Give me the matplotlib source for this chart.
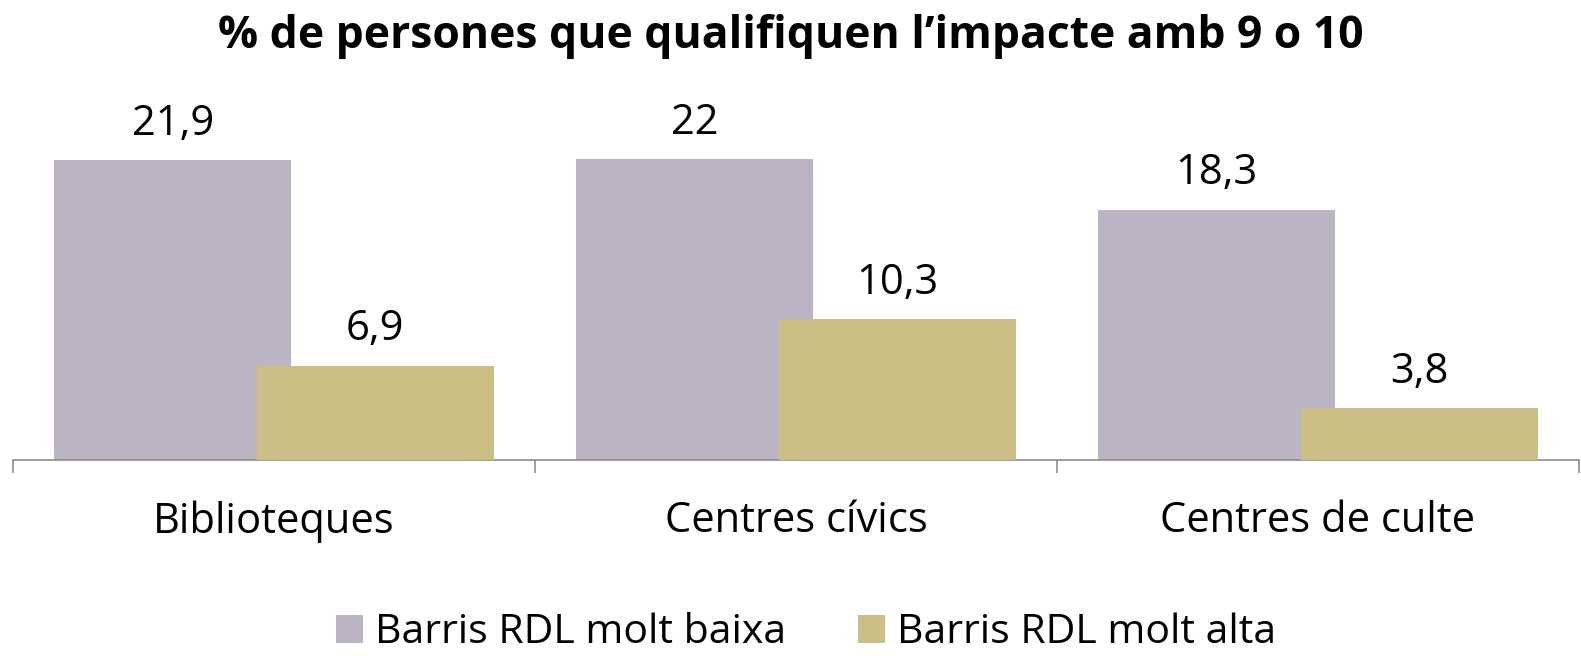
import matplotlib
matplotlib.use("Agg")
from matplotlib import pyplot as plt
import numpy as np

categories = ['Biblioteques', 'Centres cívics', 'Centres de culte']
series_names = ['Barris RDL molt baixa', 'Barris RDL molt alta']
baixa_values = [21.9, 22.0, 18.3]
alta_values = [6.9, 10.3, 3.8]
value_labels = [['21,9', '22', '18,3'], ['6,9', '10,3', '3,8']]

colors = ['#BAB4C5', '#CBBF85']

plt.rcParams['font.family'] = ['Open Sans', 'DejaVu Sans']

W, H = 1581, 656
fig = plt.figure(figsize=(W / 100, H / 100), dpi=100)
# axis line sits at y=460 px, 25 units ~ 342 px
ax = fig.add_axes([13 / W, 1 - 460 / H, 1566 / W, 342 / H])

x = np.arange(len(categories))
width = 0.453
offset = 0.194

for i, (vals, name) in enumerate(zip([baixa_values, alta_values], series_names)):
    pos = x + (-offset if i == 0 else offset)
    bars = ax.bar(pos, vals, width=width, color=colors[i], label=name, zorder=2 + i)
    for b, lab in zip(bars, value_labels[i]):
        ax.annotate(lab, (b.get_x() + b.get_width() / 2, b.get_height()),
                    xytext=(0, 11), textcoords='offset points',
                    ha='center', va='bottom', fontsize=30, color='black')

ax.set_xlim(-0.5, 2.5)
ax.set_ylim(0, 25)
ax.set_yticks([])
for s in ['top', 'right', 'left']:
    ax.spines[s].set_visible(False)
ax.spines['bottom'].set_color('#8C8C8C')
ax.spines['bottom'].set_linewidth(1.2)

ax.set_xticks([-0.5, 0.5, 1.5, 2.5])
ax.set_xticklabels([])
ax.tick_params(axis='x', direction='out', length=9, width=1.2, color='#8C8C8C')
ax.set_xticks(x, minor=True)
ax.set_xticklabels(categories, minor=True, fontsize=30)
ax.tick_params(axis='x', which='minor', length=0, pad=29)

fig.text(0.5, 0.945, '% de persones que qualifiquen l\u2019impacte amb 9 o 10',
         ha='center', va='center', fontsize=32, fontweight='bold')

fig.legend(loc='lower center', bbox_to_anchor=(0.51, -0.052), ncol=2, frameon=False,
           fontsize=29.5, handlelength=0.65, handleheight=0.65, columnspacing=1.75,
           handletextpad=0.3)

fig.savefig('out.png', dpi=100)
